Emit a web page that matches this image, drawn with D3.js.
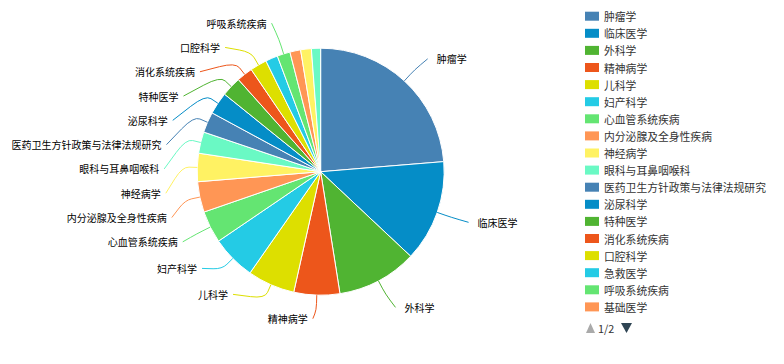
<!DOCTYPE html>
<html>
<head>
<meta charset="utf-8">
<script src="https://cdn.jsdelivr.net/npm/d3@7/dist/d3.min.js"></script>
<style>
  html, body { margin: 0; padding: 0; background: #fff; }
  svg { display: block; font-family: "Noto Sans CJK SC", "Noto Sans", sans-serif; }
</style>
</head>
<body>
<svg id="chart" width="784" height="364"></svg>
<script>
// Subject categories, in drawing order (clockwise from 12 o'clock)
const categories = [
  "肿瘤学", "临床医学", "外科学", "精神病学", "儿科学", "妇产科学",
  "心血管系统疾病", "内分泌腺及全身性疾病", "神经病学", "眼科与耳鼻咽喉科",
  "医药卫生方针政策与法律法规研究", "泌尿科学", "特种医学", "消化系统疾病",
  "口腔科学", "急救医学", "呼吸系统疾病", "基础医学", "药学", "预防医学"
];
// Record counts per category
const values = [237, 133, 105, 60, 62, 58, 42, 40, 37, 28, 27, 29, 26, 21, 22, 16, 17, 14, 14, 12];
// Series colour cycle
const palette = ["#4682b4", "#058dc7", "#50b432", "#ed561b", "#dddf00",
                 "#24cbe5", "#64e572", "#ff9655", "#fff263", "#6af9c4"];
// Scrollable legend: rows per page and the page on show
const legendPageSize = 18;
const legendPage = 1;

const W = 784, H = 364;
const svg = d3.select("#chart");

// Pie geometry and label-line settings
const cx = W * 0.409, cy = H * 0.4717, R = 123.5;
const LINE1 = 15;          // first label-line segment
const LINE_R = 30;         // radial distance of the label anchor
const LEN2 = 3;            // horizontal tail of the label line
const TEXT_GAP = { "-1": 5, "1": 9 }; // space between line end and text, per side
const LABEL_BOX = 24.3;    // vertical room each outside label needs
const MIN_LABEL_ANGLE = 6; // slices narrower than this (deg) get no label
const BOUND = 11;          // top / bottom margin for labels

const data = categories.map((name, i) => ({ name, value: values[i], color: palette[i % palette.length] }));
const pie = d3.pie().sort(null).value(d => d.value).startAngle(0).endAngle(2 * Math.PI);
const arcs = pie(data);
const arcGen = d3.arc().innerRadius(0).outerRadius(R);

// Slices
svg.append("g")
  .attr("transform", `translate(${cx},${cy})`)
  .selectAll("path")
  .data(arcs)
  .join("path")
  .attr("d", arcGen)
  .attr("fill", d => d.data.color)
  .attr("stroke", "#fff")
  .attr("stroke-width", 1)
  .attr("stroke-linejoin", "round");

// ---- outside labels ----
const items = arcs
  .filter(a => (a.endAngle - a.startAngle) * 180 / Math.PI >= MIN_LABEL_ANGLE)
  .map(a => {
    const mid = (a.startAngle + a.endAngle) / 2;
    const sx = Math.sin(mid), sy = -Math.cos(mid);
    const x0 = cx + (R + LINE_R) * sx;
    return {
      a, dir: sx < 0 ? -1 : 1,
      p0: [cx + R * sx, cy + R * sy],
      p1: [cx + (R + LINE1) * sx, cy + (R + LINE1) * sy],
      x0, x: x0, y: cy + (R + LINE_R) * sy
    };
  });

// Push overlapping labels apart along y, keeping them inside the bounds
function shiftLayout(list, minBound, maxBound) {
  const n = list.length;
  if (n < 2) return false;
  list.sort((p, q) => p.y - q.y);
  const top = it => it.y - LABEL_BOX / 2;
  const bottom = it => it.y + LABEL_BOX / 2;
  let adjusted = false;
  const shiftList = (d, s, e) => {
    if (d !== 0) adjusted = true;
    for (let i = s; i < e; i++) list[i].y += d;
  };
  let lastPos = 0, total = 0;
  for (const it of list) {
    const d = top(it) - lastPos;
    if (d < 0) { it.y -= d; total -= d; adjusted = true; }
    lastPos = bottom(it);
  }
  if (total > 0) shiftList(-total / n, 0, n);

  const squeezeGaps = (delta, maxPct) => {
    const gaps = [];
    let sum = 0;
    for (let i = 1; i < n; i++) {
      const gp = Math.max(top(list[i]) - bottom(list[i - 1]), 0);
      gaps.push(gp); sum += gp;
    }
    if (!sum) return;
    const pct = Math.min(Math.abs(delta) / sum, maxPct);
    if (delta > 0) {
      for (let i = 0; i < n - 1; i++) shiftList(gaps[i] * pct, 0, i + 1);
    } else {
      for (let i = n - 1; i > 0; i--) shiftList(-gaps[i - 1] * pct, i, n);
    }
  };
  const gapsNow = () => [top(list[0]) - minBound, maxBound - bottom(list[n - 1])];
  let [minGap, maxGap] = gapsNow();
  if (minGap < 0) squeezeGaps(-minGap, 0.8);
  if (maxGap < 0) squeezeGaps(maxGap, 0.8);
  [minGap, maxGap] = gapsNow();
  const takeBoundsGap = (gThis, gOther, dir) => {
    if (gThis >= 0) return;
    const mv = Math.min(gOther, -gThis);
    if (mv > 0) {
      shiftList(mv * dir, 0, n);
      const rem = mv + gThis;
      if (rem < 0) squeezeGaps(-rem * dir, 1);
    } else {
      squeezeGaps(-gThis * dir, 1);
    }
  };
  takeBoundsGap(minGap, maxGap, 1);
  takeBoundsGap(maxGap, minGap, -1);
  return adjusted;
}

// Re-seat shifted labels on an ellipse through the outermost label
function recalculateX(list, dir) {
  const rA = R + LINE_R;
  [list.filter(it => it.y <= cy), list.filter(it => it.y > cy)].forEach(semi => {
    if (!semi.length) return;
    let maxDy = -1, rB = rA;
    semi.forEach(it => {
      const dy = Math.abs(it.y - cy);
      if (dy >= maxDy) {
        const dx = it.x0 - cx;
        rB = Math.abs(dx) < rA ? Math.sqrt(dy * dy / (1 - dx * dx / (rA * rA))) : rA;
        maxDy = dy;
      }
    });
    semi.forEach(it => {
      const dy = Math.abs(it.y - cy);
      it.x = cx + dir * Math.sqrt(Math.max(0, 1 - dy * dy / (rB * rB))) * rA;
    });
  });
}

[-1, 1].forEach(dir => {
  const side = items.filter(it => it.dir === dir);
  if (shiftLayout(side, BOUND, H - BOUND)) recalculateX(side, dir);
});

items.forEach(it => {
  it.p2 = [it.x + it.dir * LEN2, it.y];
  it.tx = it.p2[0] + it.dir * TEXT_GAP[it.dir];
});

// Label line: straight runs joined by a rounded elbow
function leaderPath(p0, p1, p2) {
  const t = 0.45;
  const a = [p1[0] + (p0[0] - p1[0]) * t, p1[1] + (p0[1] - p1[1]) * t];
  const b = [p1[0] + (p2[0] - p1[0]) * t, p1[1] + (p2[1] - p1[1]) * t];
  const p = d3.path();
  p.moveTo(p0[0], p0[1]);
  p.lineTo(a[0], a[1]);
  p.quadraticCurveTo(p1[0], p1[1], b[0], b[1]);
  p.lineTo(p2[0], p2[1]);
  return p.toString();
}

const labelG = svg.append("g");
labelG.selectAll("path")
  .data(items)
  .join("path")
  .attr("d", it => leaderPath(it.p0, it.p1, it.p2))
  .attr("fill", "none")
  .attr("stroke", it => it.a.data.color)
  .attr("stroke-width", 1);

labelG.selectAll("text")
  .data(items)
  .join("text")
  .attr("x", it => it.tx)
  .attr("y", it => it.y)
  .attr("text-anchor", it => it.dir < 0 ? "end" : "start")
  .attr("dominant-baseline", "central")
  .attr("font-size", 10)
  .attr("fill", "#000")
  .text(it => it.a.data.name);

// ---- legend (scrollable, first page) ----
const legendX = 585, legendY0 = 16.2, legendStep = 17.1;
const pageCount = Math.ceil(data.length / legendPageSize);
const pageItems = data.slice((legendPage - 1) * legendPageSize, legendPage * legendPageSize);
const legend = svg.append("g");
const rows = legend.selectAll("g")
  .data(pageItems)
  .join("g")
  .attr("transform", (d, i) => `translate(${legendX},${legendY0 + i * legendStep})`);
rows.append("rect")
  .attr("x", 0).attr("y", -4.5)
  .attr("width", 14).attr("height", 9)
  .attr("fill", d => d.color);
rows.append("text")
  .attr("x", 19).attr("y", 0)
  .attr("dominant-baseline", "central")
  .attr("font-size", 10.8)
  .attr("fill", "#333")
  .text(d => d.name);

// Pager: previous / page counter / next
const pagerY = legendY0 + legendPageSize * legendStep + 4;
const pager = legend.append("g").attr("transform", `translate(${legendX},${pagerY})`);
pager.append("path")
  .attr("d", "M1,5 L5.5,-5 L10,5 Z")
  .attr("fill", legendPage > 1 ? "#2f4554" : "#aaa");
pager.append("text")
  .attr("x", 13).attr("y", 0)
  .attr("dominant-baseline", "central")
  .attr("font-size", 10.8)
  .attr("fill", "#333")
  .text(`${legendPage}/${pageCount}`);
pager.append("path")
  .attr("d", "M36,-5 L47,-5 L41.5,5 Z")
  .attr("fill", legendPage < pageCount ? "#2f4554" : "#aaa");
</script>
</body>
</html>
